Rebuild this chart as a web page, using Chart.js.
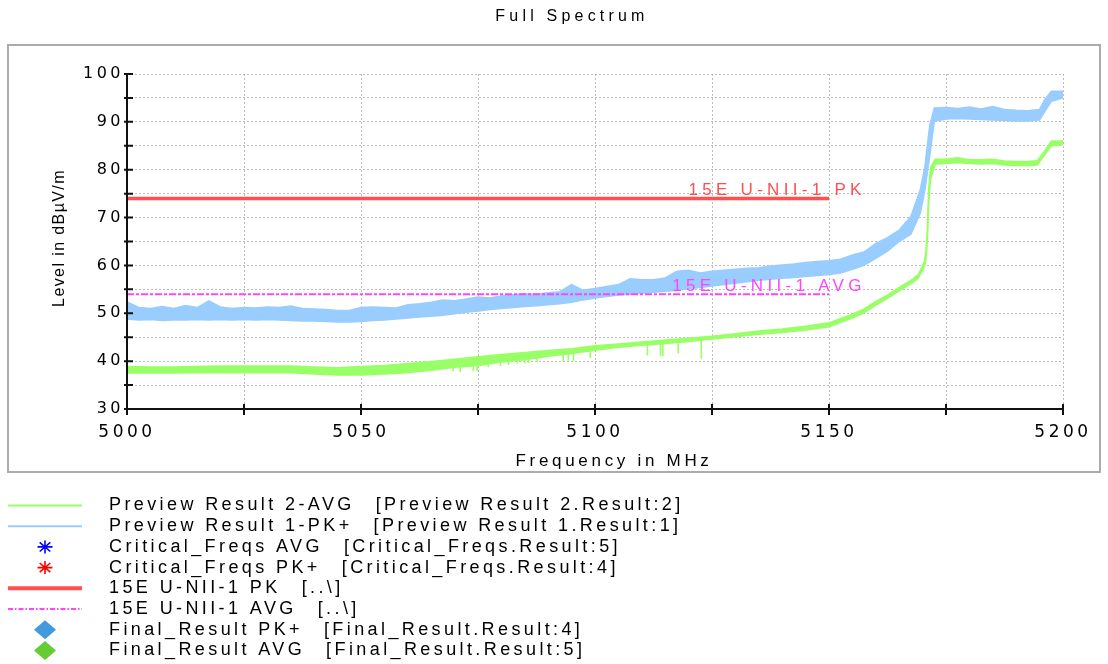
<html>
<head>
<meta charset="utf-8">
<script src="https://cdn.jsdelivr.net/npm/chart.js@4.4.1/dist/chart.umd.min.js"></script>
<style>
  body { margin: 0; background: #fff; }
  #wrap { width: 1108px; height: 664px; }
</style>
</head>
<body>
<div id="wrap"><canvas id="spectrum"></canvas></div>
<script>
// ---- data ----
const titleText = 'Full Spectrum';
const xTitle = 'Frequency in MHz';
const yTitle = 'Level in dB\u00b5V/m';

// Preview Result 1-PK+ (light blue), upper / lower edge of the noisy trace
const pkFreq = [5000,5002.5,5005,5007.5,5010,5012.5,5015,5017.5,5020,5022.5,5025,5027.5,5030,5032.5,5035,5037.5,5040,5042.5,5045,5047.5,
  5050,5052.5,5055,5057.5,5060,5062.5,5065,5067.5,5070,5072.5,5075,5077.5,5080,5082.5,5085,5087.5,5090,5092.5,5095,5097.5,
  5100,5102.5,5105,5107.5,5110,5112.5,5115,5117.5,5120,5122.5,5125,5127.5,5130,5132.5,5135,5137.5,5140,5142.5,5145,5147.5,
  5150,5152.5,5155,5157.5,5160,5162.5,5165,5167.5,5169.5,5170.5,5171.5,5172.5,5175,5177.5,5180,5182.5,5185,5187.5,5190,5192.5,
  5195,5196,5197.5,5200];
const pkHigh = [52.4,51.2,51.0,51.4,51.0,51.6,51.2,52.6,51.3,51.0,51.2,51.1,51.3,51.2,51.5,51.0,50.9,50.8,50.6,50.6,
  51.2,51.3,51.2,51.1,51.8,52.0,52.3,52.8,52.6,53.0,53.4,53.2,53.6,53.9,54.1,54.0,54.3,54.5,56.0,54.8,
  55.2,55.6,56.0,57.2,57.0,57.0,57.4,58.8,59.0,58.4,58.8,59.0,59.2,59.4,59.5,59.9,60.1,60.3,60.6,60.8,
  61.0,61.3,62.2,62.8,64.6,65.8,67.4,70.2,75.8,80.7,89.1,92.9,93.0,92.8,93.1,92.7,93.2,92.6,92.4,92.3,
  92.6,94.5,96.4,96.4];
const pkLow = [48.8,48.6,48.7,48.5,48.6,48.6,48.7,48.6,48.7,48.6,48.7,48.6,48.7,48.6,48.5,48.4,48.4,48.3,48.2,48.2,
  48.3,48.5,48.6,48.8,49.0,49.2,49.4,49.6,49.9,50.2,50.5,50.8,51.0,51.2,51.4,51.6,51.8,52.0,52.3,52.8,
  53.2,53.5,53.8,54.0,54.2,54.4,54.6,54.8,55.1,55.4,55.7,56.0,56.3,56.6,56.9,57.1,57.3,57.5,57.7,57.9,
  58.1,58.4,59.2,60.0,61.5,63.0,65.0,66.5,70.9,75.8,82.8,90.1,90.6,90.7,90.6,90.5,90.4,90.3,90.2,90.2,
  90.4,92.0,94.3,95.0];

// Preview Result 2-AVG (green)
const avgFreq = [5000,5005,5010,5015,5020,5025,5030,5035,5040,5045,5050,5055,5060,5065,5070,5075,5080,5085,5090,5095,
  5100,5105,5110,5115,5120,5125,5130,5135,5140,5145,5150,5152.5,5155,5157.5,5160,5162.5,5165,5167.5,
  5169,5170.4,5170.7,5171,5171.3,5171.7,5172.7,5175,5177.5,5180,5182.5,5185,5187.5,5190,5192.5,5194.5,5196,5197.5,5200];
const avgHigh = [38.9,38.8,38.8,38.9,39.0,39.0,39.0,39.0,38.8,38.6,38.9,39.1,39.5,39.9,40.4,40.9,41.4,41.8,42.2,42.6,
  43.2,43.6,44.0,44.4,44.8,45.2,45.7,46.3,46.7,47.3,48.0,48.9,49.8,50.9,52.5,53.8,55.4,56.9,
  58.0,60.8,63.0,67.0,76.0,80.5,82.2,82.2,82.5,82.1,82.1,82.2,81.8,81.7,81.7,81.9,83.8,86.0,86.0];
const avgLow = [37.5,37.5,37.5,37.6,37.6,37.6,37.6,37.6,37.3,37.1,37.1,37.3,37.6,38.1,38.7,39.1,39.8,40.3,41.0,41.6,
  42.3,42.9,43.3,43.7,44.1,44.6,45.1,45.6,46.0,46.5,47.2,48.1,49.0,50.1,51.7,53.1,54.7,56.2,
  57.2,59.8,61.0,65.0,73.0,78.0,81.2,81.3,81.5,81.3,81.2,81.3,81.0,80.9,80.9,81.0,83.0,85.0,85.2];

// short drop-outs in the AVG trace: frequency, level before the drop, lowest level
const dropFreq = [5065.5,5069.7,5071.2,5074.0,5074.8,5077.2,5079.8,5081.5,5083.4,5085.0,5085.8,5087.6,5093.2,5094.3,5095.4,5099.0,5111.2,5114.0,5114.5,5117.8,5122.7];
const dropTop = [39.5,40.0,40.2,40.6,40.7,41.0,41.3,41.5,41.7,41.8,41.9,42.0,42.5,42.6,42.7,43.0,44.0,44.3,44.3,44.6,45.0];
const dropBottom = [38.0,37.9,37.7,37.9,37.9,38.7,39.0,39.2,39.5,39.5,39.6,39.8,40.0,40.1,40.0,40.6,41.2,41.0,41.0,41.6,40.5];

// limit lines
const limitFreq = [5000, 5150];
const limitPk = 74;
const limitAvg = 54;
const limitLabelFreq = 5157;
const limitPkName = '15E U-NII-1 PK';
const limitAvgName = '15E U-NII-1 AVG';

// legend
const legendNames = ['Preview Result 2-AVG','Preview Result 1-PK+','Critical_Freqs AVG','Critical_Freqs PK+',
  '15E U-NII-1 PK','15E U-NII-1 AVG','Final_Result PK+','Final_Result AVG'];
const legendRefs = ['[Preview Result 2.Result:2]','[Preview Result 1.Result:1]','[Critical_Freqs.Result:5]',
  '[Critical_Freqs.Result:4]','[..\\]','[..\\]','[Final_Result.Result:4]','[Final_Result.Result:5]'];

const BLUE = '#99ccff';
const GREEN = '#99ff66';
const RED = '#ff4f4f';
const MAGENTA = '#ff44ff';

function pts(fx, fy) { return fx.map((f, i) => ({x: f, y: fy[i]})); }

const drops = [];
dropFreq.forEach((f, i) => {
  drops.push({x: f, y: dropTop[i]}, {x: f, y: dropBottom[i]}, {x: f, y: null});
});

const data = {
  datasets: [
    { label: 'pk high', data: pts(pkFreq, pkHigh), borderColor: BLUE, borderWidth: 1.5, order: 6 },
    { label: 'pk low', data: pts(pkFreq, pkLow), borderColor: BLUE, borderWidth: 1.5, backgroundColor: BLUE, fill: 0, order: 5 },
    { label: 'avg high', data: pts(avgFreq, avgHigh), borderColor: GREEN, borderWidth: 1.5, order: 4 },
    { label: 'avg low', data: pts(avgFreq, avgLow), borderColor: GREEN, borderWidth: 1.5, backgroundColor: GREEN, fill: 2, order: 3 },
    { label: 'avg drops', data: drops, borderColor: GREEN, borderWidth: 1.6, spanGaps: false, order: 3 },
    { label: limitAvgName, data: pts(limitFreq, [limitAvg, limitAvg]), borderColor: MAGENTA, borderWidth: 2, borderDash: [7, 2, 3, 2], order: 2 },
    { label: limitPkName, data: pts(limitFreq, [limitPk, limitPk]), borderColor: RED, borderWidth: 3.5, order: 1 }
  ]
};

function spaced(ctx, text, x, y, font, spacing, color, align, base) {
  ctx.save();
  ctx.font = font;
  ctx.letterSpacing = spacing;
  ctx.fillStyle = color;
  ctx.textAlign = align || 'left';
  ctx.textBaseline = base || 'middle';
  ctx.fillText(text, x, y);
  const w = ctx.measureText(text).width;
  ctx.restore();
  return w;
}

function asterisk(ctx, cx, cy, color) {
  ctx.save();
  ctx.strokeStyle = color;
  ctx.lineWidth = 1.6;
  ctx.beginPath();
  for (let k = 0; k < 4; k++) {
    const a = k * Math.PI / 4;
    ctx.moveTo(cx - 7.5 * Math.cos(a), cy - 6.5 * Math.sin(a));
    ctx.lineTo(cx + 7.5 * Math.cos(a), cy + 6.5 * Math.sin(a));
  }
  ctx.stroke();
  ctx.restore();
}

function diamond(ctx, cx, cy, color) {
  ctx.save();
  ctx.fillStyle = color;
  ctx.beginPath();
  ctx.moveTo(cx, cy - 9.5);
  ctx.lineTo(cx + 11, cy);
  ctx.lineTo(cx, cy + 9.5);
  ctx.lineTo(cx - 11, cy);
  ctx.closePath();
  ctx.fill();
  ctx.restore();
}

const decor = {
  id: 'decor',
  beforeDraw(chart) {
    const ctx = chart.ctx;
    ctx.save();
    ctx.strokeStyle = '#ababab';
    ctx.lineWidth = 2;
    ctx.strokeRect(8, 45, 1092, 427);
    ctx.restore();
    ctx.letterSpacing = '3.5px';
  },
  afterDatasetsDraw(chart) {
    const ctx = chart.ctx;
    const xs = chart.scales.x, ys = chart.scales.y;
    const lx = xs.getPixelForValue(limitLabelFreq) + 4;
    spaced(ctx, limitPkName, lx, ys.getPixelForValue(limitPk) - 3, '17px "Liberation Sans"', '4.3px', RED, 'right', 'alphabetic');
    spaced(ctx, limitAvgName, lx, ys.getPixelForValue(limitAvg) - 3, '17px "Liberation Sans"', '4.3px', MAGENTA, 'right', 'alphabetic');
  },
  afterDraw(chart) {
    const ctx = chart.ctx;
    ctx.letterSpacing = '0px';
    const a = chart.chartArea;
    const xs = chart.scales.x, ys = chart.scales.y;
    // axis lines and tick marks
    ctx.save();
    ctx.strokeStyle = '#111';
    ctx.lineWidth = 2;
    ctx.beginPath();
    ctx.moveTo(a.left, a.top - 1);
    ctx.lineTo(a.left, a.bottom);
    ctx.lineTo(a.right, a.bottom);
    ctx.stroke();
    ctx.beginPath();
    ys.ticks.forEach(t => {
      const y = ys.getPixelForValue(t.value);
      ctx.moveTo(a.left - 3, y);
      ctx.lineTo(a.left + 6, y);
    });
    xs.ticks.forEach(t => {
      const x = xs.getPixelForValue(t.value);
      ctx.moveTo(x, a.bottom - 5);
      ctx.lineTo(x, a.bottom + 6);
    });
    ctx.stroke();
    ctx.restore();

    // titles
    spaced(ctx, titleText, 572, 17, '16px "Liberation Sans"', '4.2px', '#000', 'center');
    spaced(ctx, xTitle, 614, 461, '17px "Liberation Sans"', '3.7px', '#000', 'center');
    ctx.save();
    ctx.translate(60, 238);
    ctx.rotate(-Math.PI / 2);
    spaced(ctx, yTitle, 0, 0, '16px "Liberation Sans"', '1.4px', '#000', 'center');
    ctx.restore();

    // legend
    const font = '18px "Liberation Sans"';
    legendNames.forEach((name, i) => {
      const y = 505.5 + i * 20.7;
      ctx.save();
      if (i === 0 || i === 1 || i === 4 || i === 5) {
        ctx.beginPath();
        ctx.moveTo(8, y);
        ctx.lineTo(82, y);
        ctx.strokeStyle = [GREEN, BLUE, null, null, RED, MAGENTA][i];
        ctx.lineWidth = i === 4 ? 4 : 2;
        if (i === 5) ctx.setLineDash([5, 2, 1.5, 2]);
        ctx.stroke();
      } else if (i === 2) {
        asterisk(ctx, 45, y, '#0000ff');
      } else if (i === 3) {
        asterisk(ctx, 45, y, '#ff0000');
      } else if (i === 6) {
        diamond(ctx, 45, y, '#4399dd');
      } else {
        diamond(ctx, 45, y, '#66cc33');
      }
      ctx.restore();
      const w = spaced(ctx, name, 109, y, font, '3.4px', '#000');
      spaced(ctx, legendRefs[i], 109 + w + 21, y, font, '3.4px', '#000');
    });
  }
};

const config = {
  type: 'line',
  data: data,
  options: {
    responsive: true,
    maintainAspectRatio: false,
    animation: false,
    layout: { padding: { left: 47, right: 45, top: 74, bottom: 215 } },
    elements: { point: { radius: 0 }, line: { tension: 0 } },
    plugins: {
      legend: { display: false },
      tooltip: { enabled: false },
      title: { display: false }
    },
    scales: {
      x: {
        type: 'linear', min: 5000, max: 5200,
        afterFit: s => { s.height = 40; },
        ticks: {
          stepSize: 25, autoSkip: false, maxRotation: 0, padding: 13, color: '#000',
          font: { family: 'DejaVu Sans', size: 17 },
          callback: v => (v % 50 === 0 ? String(v) : '')
        },
        grid: { color: '#bdbdbd', lineWidth: 1, drawTicks: false },
        border: { display: false, dash: [2, 2] }
      },
      y: {
        min: 30, max: 100,
        afterFit: s => { s.width = 80; },
        ticks: {
          stepSize: 5, autoSkip: false, padding: 3, color: '#000',
          font: { family: 'DejaVu Sans', size: 16 },
          callback: v => (v % 10 === 0 ? String(v) : '')
        },
        grid: { color: '#bdbdbd', lineWidth: 1, drawTicks: false },
        border: { display: false, dash: [2, 2] }
      }
    }
  },
  plugins: [decor]
};

var myChart = new Chart(document.getElementById('spectrum'), config);
</script>
</body>
</html>
